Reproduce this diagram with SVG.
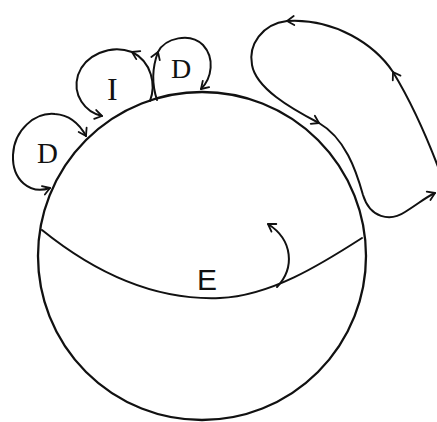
<svg xmlns="http://www.w3.org/2000/svg" width="437" height="422" viewBox="0 0 437 422">
  <style>
    .ln { fill: none; stroke: #111; stroke-width: 2; stroke-linecap: round; stroke-linejoin: round; }
    .thick { stroke-width: 2.3; }
    .lbl { fill: #111; font-family: "Liberation Serif", "DejaVu Serif", serif; }
    .lblE { fill: #111; font-family: "Liberation Sans", "DejaVu Sans", sans-serif; }
  </style>
  <defs>
    <marker id="chev" viewBox="-10 -10 20 20" refX="0" refY="0" markerWidth="20" markerHeight="20" markerUnits="userSpaceOnUse" orient="auto">
      <path d="M -7 -4.5 L 0 0 L -7 4.5" fill="none" stroke="#111" stroke-width="1.8" stroke-linecap="round" stroke-linejoin="round"/>
    </marker>
    <marker id="chevStart" viewBox="-10 -10 20 20" refX="0" refY="0" markerWidth="20" markerHeight="20" markerUnits="userSpaceOnUse" orient="auto-start-reverse">
      <path d="M -7 -4.5 L 0 0 L -7 4.5" fill="none" stroke="#111" stroke-width="1.8" stroke-linecap="round" stroke-linejoin="round"/>
    </marker>
  </defs>
  <rect width="437" height="422" fill="#ffffff"/>

  <g id="sphere">
    <circle class="ln thick" cx="202" cy="256" r="164"/>
    <path class="ln" d="M 42 230 C 110 285, 170 300, 220 298 C 270 296, 320 265, 362 238"/>
  </g>

  <g id="node-E">
    <text class="lblE" x="197" y="290" font-size="30">E</text>
  </g>

  <g id="node-D-left">
    <text class="lbl" x="37" y="163" font-size="29">D</text>
  </g>

  <g id="node-I">
    <text class="lbl" x="107" y="100" font-size="32">I</text>
  </g>

  <g id="node-D-right">
    <text class="lbl" x="171" y="78" font-size="28">D</text>
  </g>

  <g id="connectors">
    <!-- left D loop -->
    <path class="ln" marker-start="url(#chevStart)" marker-end="url(#chev)" d="M 50 188 C 30 195, 12 180, 13 155 C 14 130, 35 112, 55 114 C 70 115, 80 125, 86 136"/>
    <!-- I loop -->
    <path class="ln" marker-end="url(#chev)" d="M 150 101 C 156 85, 152 62, 132 52"/>
    <path class="ln" marker-end="url(#chev)" d="M 132 52 C 110 44, 85 55, 78 75 C 72 95, 85 112, 102 116"/>
    <!-- right D loop -->
    <path class="ln" marker-end="url(#chev)" d="M 157 100 C 152 85, 152 68, 158 52"/>
    <path class="ln" marker-end="url(#chev)" d="M 158 52 C 165 38, 190 32, 203 45 C 215 58, 212 78, 201 89"/>
    <!-- large lobe on the right -->
    <path class="ln" marker-end="url(#chev)" d="M 440 172 C 428 140, 410 100, 393 72"/>
    <path class="ln" marker-end="url(#chev)" d="M 393 72 C 375 45, 335 18, 287 21"/>
    <path class="ln" marker-end="url(#chev)" d="M 287 21 C 262 24, 248 45, 252 65 C 256 88, 290 108, 319 123"/>
    <path class="ln" marker-end="url(#chev)" d="M 319 123 C 345 138, 356 170, 363 195 C 370 218, 390 222, 405 212 C 418 204, 426 197, 435 193"/>
    <!-- arrow inside the sphere rising from E boundary -->
    <path class="ln" marker-end="url(#chev)" d="M 277 287 C 295 268, 293 240, 268 224"/>
  </g>
</svg>
